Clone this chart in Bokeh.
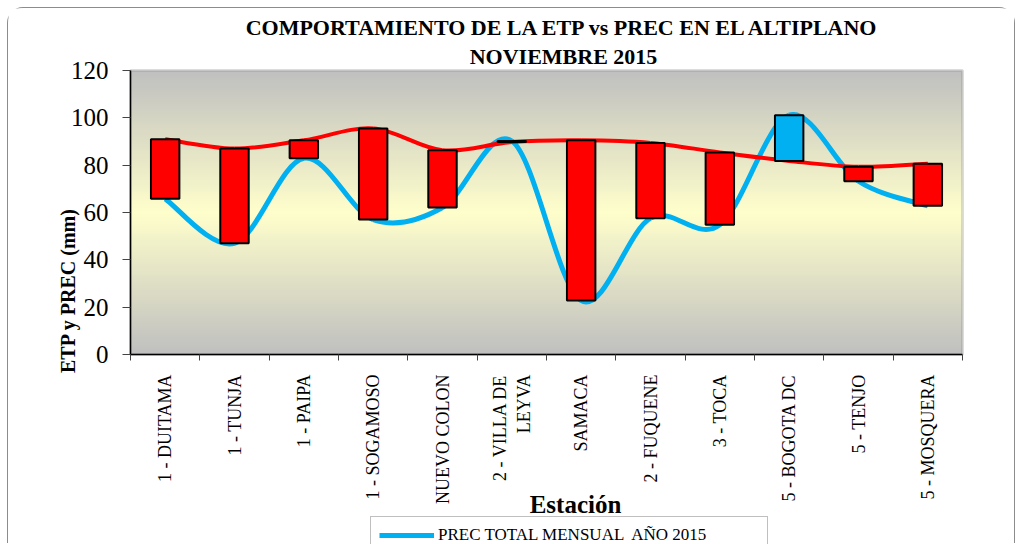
import numpy as np
from bokeh.plotting import figure
from bokeh.models import (Range1d, FixedTicker, Label, Legend, LegendItem, ColumnDataSource,
                          BoxAnnotation)
from bokeh.embed import file_html
from bokeh.resources import INLINE

# ---------------- data ----------------
stations = ["1 - DUITAMA", "1 - TUNJA", "1 - PAIPA", "1 - SOGAMOSO", "NUEVO COLON",
            "2 - VILLA DE\nLEYVA", "SAMACA", "2 - FUQUENE", "3 - TOCA",
            "5 - BOGOTA DC", "5 - TENJO", "5 - MOSQUERA"]
etp = [91.0, 87.0, 90.5, 95.5, 86.3, 89.8, 90.5, 89.4, 85.4, 81.8, 79.3, 80.6]
prec = [65.8, 47.0, 82.9, 57.0, 62.1, 90.2, 22.8, 57.6, 54.8, 101.1, 73.2, 62.8]
y_ticks = [0, 20, 40, 60, 80, 100, 120]
y_max = 120

title1 = "COMPORTAMIENTO DE LA ETP vs PREC EN EL ALTIPLANO"
title2 = "NOVIEMBRE 2015"
x_title = "Estación"
y_title = "ETP y PREC (mm)"
legend_label = "PREC TOTAL MENSUAL  AÑO 2015"

RED = "#FF0000"
BLUE = "#00B0F0"
SERIF = "Liberation Serif"

n = len(stations)
xc = [i + 0.5 for i in range(n)]

# ---------------- layout (page pixels) ----------------
W, H = 1008, 536              # canvas size; canvas origin at page (8, 8)
CANVAS_X0, CANVAS_Y0 = 8, 8
PLOT_L, PLOT_R, PLOT_T, PLOT_B = 130, 962, 70, 354
sx = (PLOT_R - PLOT_L) / n
sy = (PLOT_B - PLOT_T) / y_max


def px_x(px):
    return (px - PLOT_L) / sx


def px_y(py):
    return (PLOT_B - py) / sy


p = figure(width=W, height=H, output_backend="svg", toolbar_location=None,
           x_range=Range1d(px_x(CANVAS_X0), px_x(CANVAS_X0 + W)),
           y_range=Range1d(px_y(CANVAS_Y0 + H), px_y(CANVAS_Y0)),
           min_border=0, min_border_left=0, min_border_right=0,
           min_border_top=0, min_border_bottom=0, title=None)
p.styles = {"margin-left": "7px", "margin-top": "7px",
            "border-top": "1px solid #8c8c8c", "border-left": "1px solid #8c8c8c",
            "border-right": "1px solid #8c8c8c", "border-top-left-radius": "16px",
            "border-top-right-radius": "16px"}
p.background_fill_color = "#FFFFFF"
p.border_fill_color = "#FFFFFF"
p.outline_line_color = None
p.xgrid.visible = False
p.ygrid.visible = False

# plot-area background gradient gray -> light yellow -> gray
rows = 120
t = np.abs(np.linspace(-1, 1, rows))
c0 = np.array([192, 192, 192])
c1 = np.array([255, 255, 204])
cols = (c1[None, :] * (1 - t[:, None]) + c0[None, :] * t[:, None]).astype(np.uint32)
img = np.empty((rows, 1), dtype=np.uint32)
view = img.view(dtype=np.uint8).reshape((rows, 1, 4))
view[:, 0, 0] = cols[:, 0]
view[:, 0, 1] = cols[:, 1]
view[:, 0, 2] = cols[:, 2]
view[:, 0, 3] = 255
p.image_rgba(image=[img], x=0, y=0, dw=n, dh=y_max, level="image")
p.add_layout(BoxAnnotation(left=0, right=n, bottom=0, top=y_max, fill_alpha=0,
                           line_color="#8c8c8c", line_width=3, level="underlay"))


def smooth_segments(xs, ys):
    x0s, y0s, x1s, y1s, cx0, cy0, cx1, cy1 = [], [], [], [], [], [], [], []
    m = len(xs)
    for i in range(m - 1):
        a = max(i - 1, 0)
        d = min(i + 2, m - 1)
        x0s.append(xs[i]); y0s.append(ys[i])
        x1s.append(xs[i + 1]); y1s.append(ys[i + 1])
        cx0.append(xs[i] + (xs[i + 1] - xs[a]) / 6.0)
        cy0.append(ys[i] + (ys[i + 1] - ys[a]) / 6.0)
        cx1.append(xs[i + 1] - (xs[d] - xs[i]) / 6.0)
        cy1.append(ys[i + 1] - (ys[d] - ys[i]) / 6.0)
    return dict(x0=x0s, y0=y0s, x1=x1s, y1=y1s, cx0=cx0, cy0=cy0, cx1=cx1, cy1=cy1)


prec_src = ColumnDataSource(smooth_segments(xc, prec))
etp_src = ColumnDataSource(smooth_segments(xc, etp))
prec_r = p.bezier(x0="x0", y0="y0", x1="x1", y1="y1", cx0="cx0", cy0="cy0", cx1="cx1",
                  cy1="cy1", source=prec_src, line_color=BLUE, line_width=5)
p.bezier(x0="x0", y0="y0", x1="x1", y1="y1", cx0="cx0", cy0="cy0", cx1="cx1", cy1="cy1",
         source=etp_src, line_color=RED, line_width=4)

# up/down bars
tops = [max(a, b) for a, b in zip(etp, prec)]
bots = [min(a, b) for a, b in zip(etp, prec)]
colors = [RED if pr < e else BLUE for e, pr in zip(etp, prec)]
p.vbar(x=xc, width=0.41, top=tops, bottom=bots, fill_color=colors,
       line_color="black", line_width=2)

# axes pinned at the plot-area edges
xa = p.xaxis[0]
xa.fixed_location = 0
xa.bounds = (0, n)
xa.ticker = FixedTicker(ticks=xc, minor_ticks=list(range(n + 1)))
xa.major_label_overrides = {x: s for x, s in zip(xc, stations)}
xa.major_label_orientation = np.pi / 2
xa.major_tick_out = 0
xa.major_tick_in = 0
xa.minor_tick_out = 6
xa.minor_tick_in = 0
xa.minor_tick_line_color = "#444444"
xa.major_label_standoff = 14
xa.major_label_text_font = SERIF
xa.major_label_text_font_size = "18px"
xa.major_label_text_color = "black"
xa.axis_line_color = "black"
xa.axis_line_width = 1.5

ya = p.yaxis[0]
ya.fixed_location = 0
ya.bounds = (0, y_max)
ya.ticker = FixedTicker(ticks=y_ticks)
ya.major_tick_out = 8
ya.major_tick_in = 0
ya.minor_tick_line_color = None
ya.major_label_standoff = 14
ya.major_label_text_font = SERIF
ya.major_label_text_font_size = "25px"
ya.major_label_text_color = "black"
ya.axis_line_color = "black"
ya.axis_line_width = 1.5
ya.major_tick_line_color = "#444444"

# texts
for txt, py in ((title1, 27), (title2, 56)):
    p.add_layout(Label(x=px_x(563), y=px_y(py), text=txt,
                       text_align="center", text_baseline="middle",
                       text_font=SERIF, text_font_size="22px",
                       text_font_style="bold", text_color="black"))
p.add_layout(Label(x=px_x(575), y=px_y(504), text=x_title,
                   text_align="center", text_baseline="middle",
                   text_font=SERIF, text_font_size="25px",
                   text_font_style="bold", text_color="black"))
p.add_layout(Label(x=px_x(67), y=px_y(290), text=y_title,
                   angle=np.pi / 2, text_align="center", text_baseline="middle",
                   text_font=SERIF, text_font_size="20px",
                   text_font_style="bold", text_color="black"))

# legend (only PREC series visible), cut by the bottom edge like the reference
legend = Legend(items=[LegendItem(label=legend_label, renderers=[prec_r])],
                location=(370 - CANVAS_X0, -10), orientation="horizontal",
                glyph_width=55, glyph_height=20, label_height=20, label_standoff=4,
                padding=8, label_width=321, label_text_font=SERIF,
                label_text_font_size="17px", label_text_color="black",
                border_line_color="#808080", border_line_width=1,
                background_fill_color="white", background_fill_alpha=1.0,
                spacing=0, margin=0)
p.add_layout(legend, "center")

open("out.html", "w").write(file_html(p, INLINE))
